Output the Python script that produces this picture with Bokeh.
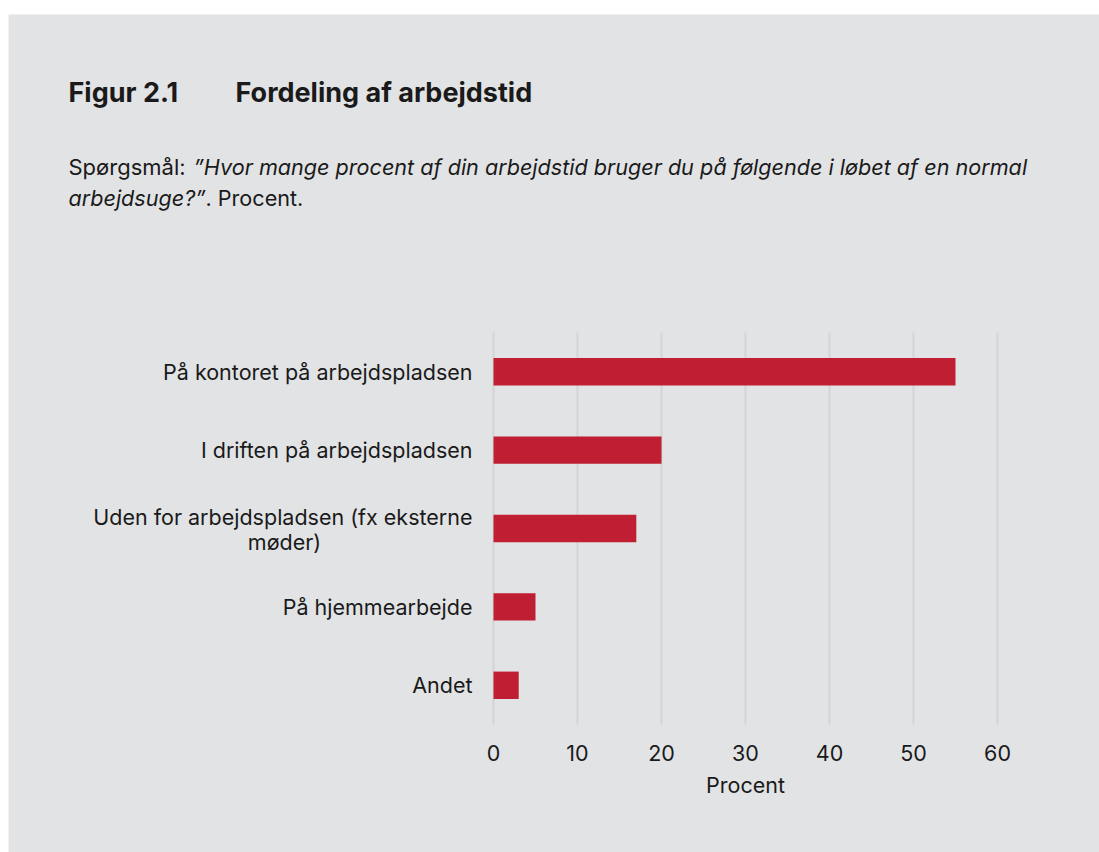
from bokeh.plotting import figure
from bokeh.models import Range1d, Spacer, ColumnDataSource
from bokeh.layouts import column, row
from bokeh.core.properties import value
from bokeh.embed import file_html
from bokeh.resources import INLINE

# ---- data ----
categories = [
    "På kontoret på arbejdspladsen",
    "I driften på arbejdspladsen",
    "Uden for arbejdspladsen (fx eksterne\nmøder)",
    "På hjemmearbejde",
    "Andet",
]
values = [55, 20, 17, 5, 3]
x_ticks = [0, 10, 20, 30, 40, 50, 60]
tick_labels = [str(t) for t in x_ticks]

title_num = "Figur 2.1"
title_text = "Fordeling af arbejdstid"
sub_lead = "Spørgsmål:"
sub_q1 = "”Hvor mange procent af din arbejdstid bruger du på følgende i løbet af en normal"
sub_q2 = "arbejdsuge?”"
sub_tail = ". Procent."
x_label = "Procent"

# ---- style / layout ----
BG = "#e2e3e5"
BAR = "#c01e32"
GRID = "#d3d4d6"
INK = "#1a1a1a"
FONT = "Inter"
W, H = 1091, 838
CH_LEFT, CH_RIGHT = 485, 990  # chart area in canvas px
CH_TOP, CH_BOT = 318, 710
LBL = "21.5px"

n = len(categories)
PX_X = (CH_RIGHT - CH_LEFT) / (x_ticks[-1] - x_ticks[0] + 0.12)
PX_Y = (CH_BOT - CH_TOP) / n

x_range = Range1d(-CH_LEFT / PX_X, (W - CH_LEFT) / PX_X)
y_range = Range1d(-(H - CH_BOT) / PX_Y, CH_BOT / PX_Y)

p = figure(width=W, height=H, output_backend="svg", toolbar_location=None,
           x_range=x_range, y_range=y_range, min_border=0,
           background_fill_color=BG, border_fill_color=BG,
           outline_line_color=None)
p.grid.visible = False
p.axis.visible = False

# category positions: top category first
ypos = [n - i - 0.5 for i in range(n)]
src = ColumnDataSource(data=dict(y=ypos, val=values))

# vertical grid lines over the chart area
p.segment(x0=x_ticks, x1=x_ticks, y0=[0] * len(x_ticks), y1=[n] * len(x_ticks),
          line_color=GRID, line_width=2)

p.hbar(y="y", right="val", left=0, height=0.35, source=src,
       fill_color=BAR, line_color=None)

def txt(**kw):
    base = dict(text_font=value(FONT), text_color=INK)
    base.update(kw)
    p.text(**base)

# x tick labels and axis title under the chart area
txt(x=x_ticks, y=[0] * len(x_ticks), text=tick_labels, y_offset=28,
    text_align="center", text_baseline="middle", text_font_size=LBL)
txt(x=[(x_ticks[0] + x_ticks[-1]) / 2], y=[0], text=[x_label], y_offset=60,
    text_align="center", text_baseline="middle", text_font_size=LBL)

# category labels: right-aligned; second line of a wrapped label centred under the first
for yc, c in zip(ypos, categories):
    parts = c.split("\n")
    if len(parts) == 1:
        txt(x=[0], y=[yc], text=[c], x_offset=-21, text_align="right",
            text_baseline="middle", text_font_size=LBL)
    else:
        txt(x=[0], y=[yc], text=[parts[0]], x_offset=-21, y_offset=-12,
            text_align="right", text_baseline="middle", text_font_size=LBL)
        txt(x=[0], y=[yc], text=[parts[1]], x_offset=-21 - 188, y_offset=13,
            text_align="center", text_baseline="middle", text_font_size=LBL)

# header texts (canvas px -> data units)
def head(cx, cy, t, size, style="normal"):
    txt(x=[(cx - CH_LEFT) / PX_X], y=[(CH_BOT - cy) / PX_Y], text=[t],
        text_font_size=size, text_font_style=style, text_align="left",
        text_baseline="alphabetic")

head(60, 78, title_num, "27px", "bold")
head(227, 78, title_text, "27px", "bold")
head(60, 152, sub_lead, "22px")
head(185, 152, sub_q1, "21.6px", "italic")
head(60, 183, sub_q2, "21.6px", "italic")
head(197, 183, sub_tail, "21.6px")

layout = column(Spacer(height=14, width=W), row(Spacer(width=8, height=H), p))

open("out.html", "w").write(file_html(layout, INLINE))
